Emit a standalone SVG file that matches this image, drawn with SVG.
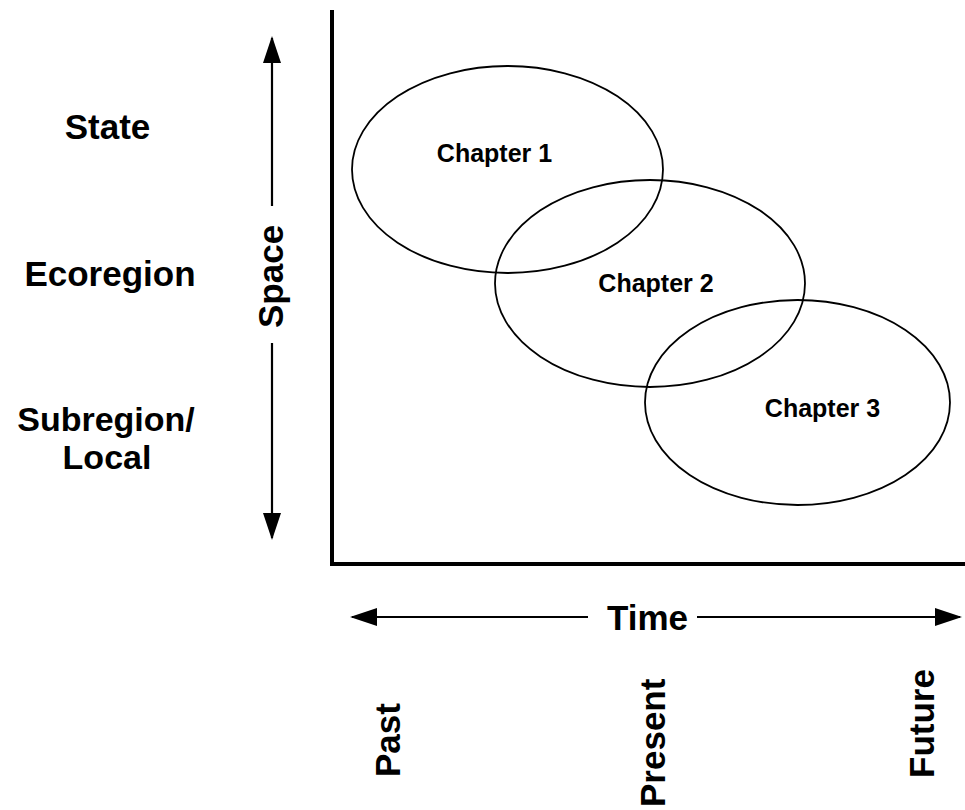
<svg xmlns="http://www.w3.org/2000/svg" width="965" height="810" viewBox="0 0 965 810">
<style>
.lbl{font-family:"Liberation Sans",Arial,sans-serif;font-weight:bold;font-size:35px;fill:#000}
.sm{font-size:34px}
.ch{font-family:"Liberation Sans",Arial,sans-serif;font-weight:bold;font-size:25px;fill:#000}
.ell{fill:none;stroke:#000;stroke-width:1.8}
.axis{fill:none;stroke:#000;stroke-width:4}
.arr{fill:none;stroke:#000;stroke-width:2.2}
</style>
<defs>
<marker id="ah" viewBox="0 0 27 18" markerWidth="27" markerHeight="18" refX="25" refY="9" orient="auto" markerUnits="userSpaceOnUse">
<path d="M0,0 L27,9 L0,18 z" fill="#000"/>
</marker>
</defs>
<rect width="965" height="810" fill="#fff"/>
<g id="axes">
<path class="axis" d="M332,10 L332,564 L965,564"/>
</g>
<g id="connectors">
<path class="arr" d="M272,206 L272,38" marker-end="url(#ah)"/>
<path class="arr" d="M272,343 L272,538" marker-end="url(#ah)"/>
<path class="arr" d="M588,617 L352,617" marker-end="url(#ah)"/>
<path class="arr" d="M697,617 L960,617" marker-end="url(#ah)"/>
</g>
<g id="chapter1">
<ellipse class="ell" cx="507.5" cy="169.5" rx="155.5" ry="103.5"/>
<text class="ch" x="494.5" y="162" text-anchor="middle">Chapter 1</text>
</g>
<g id="chapter2">
<ellipse class="ell" cx="650" cy="283.5" rx="155" ry="103.5"/>
<text class="ch" x="656" y="292" text-anchor="middle">Chapter 2</text>
</g>
<g id="chapter3">
<ellipse class="ell" cx="797.5" cy="402.5" rx="152.5" ry="102.5"/>
<text class="ch" x="822.5" y="417" text-anchor="middle">Chapter 3</text>
</g>
<g id="space-labels">
<text class="lbl" x="107.5" y="139" text-anchor="middle">State</text>
<text class="lbl" x="110" y="286" text-anchor="middle">Ecoregion</text>
<text class="lbl sm" x="106" y="431" text-anchor="middle">Subregion/</text>
<text class="lbl sm" x="107" y="469" text-anchor="middle">Local</text>
<text class="lbl" transform="translate(283,328) rotate(-90)">Space</text>
</g>
<g id="time-labels">
<text class="lbl" x="607" y="630">Time</text>
<text class="lbl" transform="translate(400,777) rotate(-90)">Past</text>
<text class="lbl" transform="translate(665,807) rotate(-90)">Present</text>
<text class="lbl" transform="translate(934,778) rotate(-90)">Future</text>
</g>
</svg>
